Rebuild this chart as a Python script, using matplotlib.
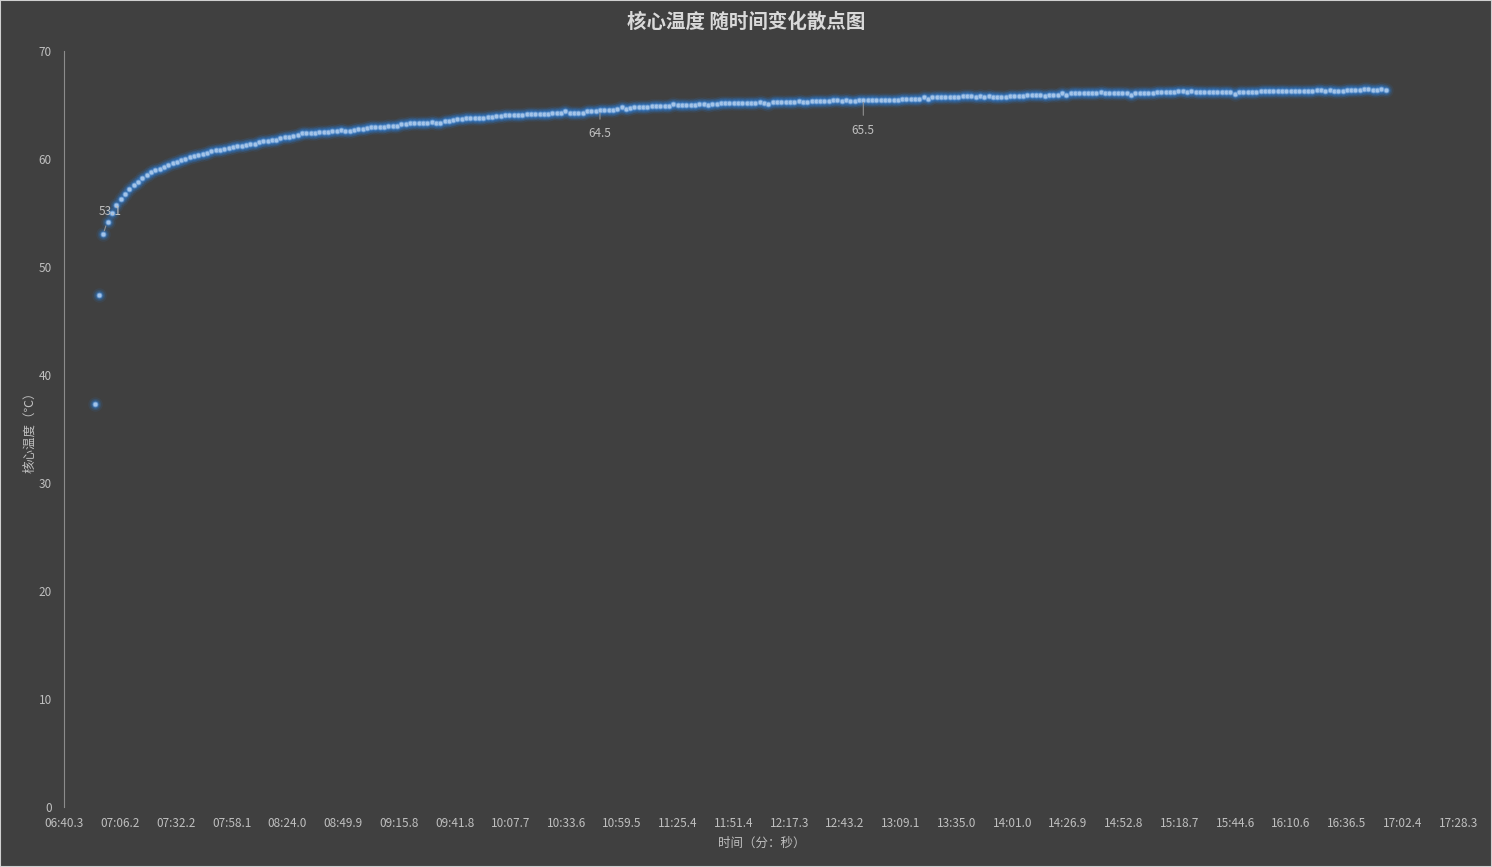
import numpy as np
import matplotlib
matplotlib.use("Agg")
import matplotlib.pyplot as plt

plt.rcParams['font.family'] = ['Noto Sans CJK SC', 'DejaVu Sans']

# sampling: one reading about every 2 s, first reading at 06:54.5
t_start = 414.5
t_step = 2.007

# core temperature readings (°C)
temps = [
    37.3, 47.4, 53.1, 54.2, 55.0, 55.7, 56.3, 56.8, 57.2, 57.6,
    57.9, 58.2, 58.5, 58.8, 59.0, 59.1, 59.3, 59.4, 59.6, 59.7,
    59.9, 60.0, 60.2, 60.3, 60.4, 60.5, 60.6, 60.7, 60.8, 60.8,
    60.9, 61.0, 61.1, 61.2, 61.2, 61.3, 61.4, 61.4, 61.6, 61.7,
    61.7, 61.8, 61.8, 61.9, 62.0, 62.0, 62.1, 62.2,
    62.4, 62.4, 62.4, 62.4, 62.5, 62.5, 62.5, 62.6, 62.6, 62.7,
    62.6, 62.6, 62.7, 62.8, 62.8, 62.9, 63.0, 63.0, 63.0, 63.0,
    63.1, 63.1, 63.1, 63.2, 63.2, 63.3, 63.3, 63.3, 63.3, 63.3,
    63.4, 63.3, 63.3, 63.5, 63.5, 63.6, 63.7, 63.7, 63.8, 63.8,
    63.8, 63.8, 63.8, 63.9, 63.9, 64.0, 64.0, 64.1, 64.1, 64.1,
    64.1, 64.1, 64.2, 64.2, 64.2, 64.2, 64.2, 64.2, 64.3, 64.3,
    64.3, 64.4,
    64.3, 64.3, 64.3, 64.3, 64.4, 64.4, 64.4, 64.5, 64.5, 64.5,
    64.5, 64.6, 64.8, 64.6, 64.7, 64.8, 64.8, 64.8, 64.8, 64.9,
    64.9, 64.9, 64.9, 64.9, 65.1, 65.0, 65.0, 65.0, 65.0, 65.0,
    65.1, 65.1, 65.0, 65.1, 65.1, 65.2, 65.2, 65.2, 65.2, 65.2,
    65.2, 65.2, 65.2, 65.2, 65.3, 65.2, 65.1, 65.3, 65.3, 65.3,
    65.3, 65.3, 65.3, 65.4, 65.3, 65.3, 65.4, 65.4, 65.4, 65.4,
    65.4, 65.5, 65.5, 65.4, 65.5,
    65.4, 65.4, 65.5, 65.5, 65.5, 65.5, 65.5, 65.5, 65.5, 65.5,
    65.5, 65.5, 65.6, 65.6, 65.6, 65.6, 65.6, 65.7, 65.6, 65.7,
    65.7, 65.7, 65.7, 65.7, 65.7, 65.7, 65.8, 65.8, 65.8, 65.7,
    65.8, 65.7, 65.8, 65.7, 65.7, 65.7, 65.7, 65.8, 65.8, 65.8,
    65.8, 65.9, 65.9, 65.9, 65.9, 65.8, 65.9, 65.9, 65.9, 66.1,
    65.9, 66.1, 66.1, 66.1, 66.1, 66.1, 66.1, 66.1, 66.2, 66.1,
    66.1, 66.1, 66.1, 66.1, 66.1,
    65.9, 66.1, 66.1, 66.1, 66.1, 66.1, 66.2, 66.2, 66.2, 66.2,
    66.2, 66.3, 66.3, 66.2, 66.3, 66.2, 66.2, 66.2, 66.2, 66.2,
    66.2, 66.2, 66.2, 66.2, 66.0, 66.2, 66.2, 66.2, 66.2, 66.2,
    66.3, 66.3, 66.3, 66.3, 66.3, 66.3, 66.3, 66.3, 66.3, 66.3,
    66.3, 66.3, 66.3, 66.4, 66.4, 66.3, 66.4, 66.3, 66.3, 66.3,
    66.4, 66.4, 66.4, 66.4, 66.5, 66.5, 66.4, 66.4, 66.5, 66.4,
]
times = t_start + t_step * np.arange(len(temps))

# readings that carry a data label
labeled = [2, 117, 178]
label_offsets = [(5, 16), (0, -17), (0, -22)]

x_min, x_max = 400.312, 1048.325
x_ticklabels = ['06:40.3', '07:06.2', '07:32.2', '07:58.1', '08:24.0', '08:49.9',
                '09:15.8', '09:41.8', '10:07.7', '10:33.6', '10:59.5', '11:25.4',
                '11:51.4', '12:17.3', '12:43.2', '13:09.1', '13:35.0', '14:01.0',
                '14:26.9', '14:52.8', '15:18.7', '15:44.6', '16:10.6', '16:36.5',
                '17:02.4', '17:28.3']

bg = '#404040'
txt = '#bfbfbf'

fig = plt.figure(figsize=(14.92, 8.67), dpi=100, facecolor=bg)
fig.patches.append(plt.Rectangle((0, 0), 1, 1, transform=fig.transFigure,
                                 fill=False, edgecolor='#d0d0d0', linewidth=1.5))
ax = fig.add_axes([0.0431, 0.0692, 0.9343, 0.8720], facecolor=bg)

# glow around markers
for s, a in [(110, 0.12), (65, 0.22), (36, 0.45)]:
    ax.scatter(times, temps, s=s, color='#2f74c0', alpha=a, linewidths=0, zorder=2)
ax.scatter(times, temps, s=12, facecolor='#a4c4e8', edgecolor='#6e9fd6',
           linewidths=0.6, zorder=3)

for i, (dx, dy) in zip(labeled, label_offsets):
    ax.annotate(f'{temps[i]:.1f}', xy=(times[i], temps[i]), xytext=(dx, dy),
                textcoords='offset points', ha='center', va='center',
                fontsize=8.5, color=txt,
                arrowprops=dict(arrowstyle='-', color='#909090', lw=0.8,
                                shrinkA=4, shrinkB=2))

ax.set_xlim(x_min, x_max)
ax.set_ylim(0, 70)
ax.set_xticks(np.linspace(x_min, x_max, len(x_ticklabels)))
ax.set_xticklabels(x_ticklabels)
ax.set_yticks(np.arange(0, 71, 10))
ax.tick_params(axis='both', length=0, colors=txt, labelsize=8.5)
ax.tick_params(axis='x', pad=7)
ax.tick_params(axis='y', pad=9)

for side in ['top', 'right', 'bottom']:
    ax.spines[side].set_visible(False)
ax.spines['left'].set_color('#8c8c8c')
ax.spines['left'].set_linewidth(0.8)

ax.set_xlabel('时间（分：秒）', color=txt, fontsize=9, labelpad=5)
ax.set_ylabel('核心温度（℃）', color=txt, fontsize=9, labelpad=2)
fig.suptitle('核心温度 随时间变化散点图', color='#d9d9d9', fontsize=14,
             fontweight='bold', y=0.985)

fig.savefig('out.png', dpi=100, facecolor=bg)
